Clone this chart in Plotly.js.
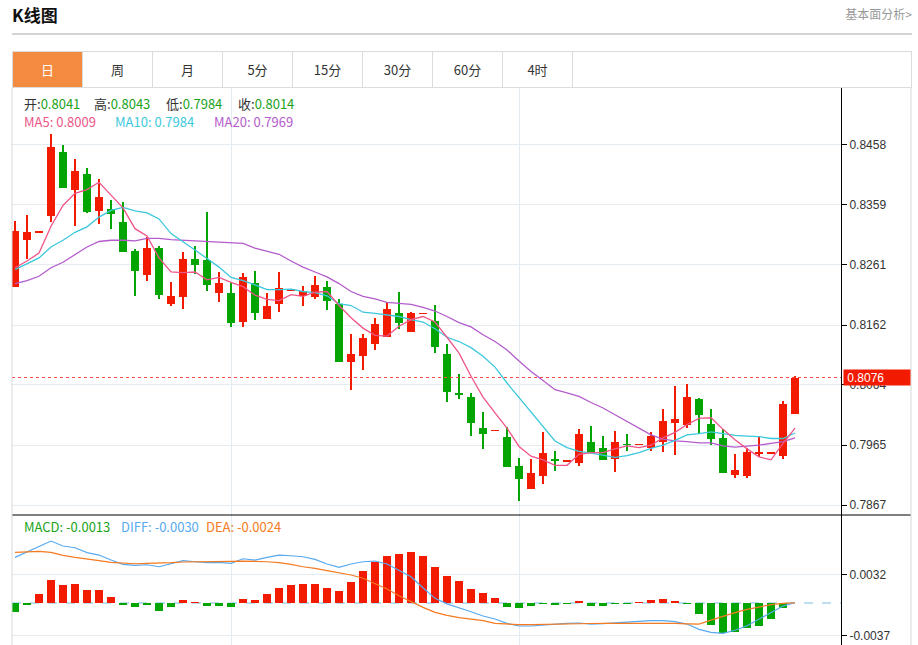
<!DOCTYPE html>
<html>
<head>
<meta charset="utf-8">
<script src="https://cdn.plot.ly/plotly-3.0.1.min.js"></script>
<style>
  html, body { margin:0; padding:0; background:#fff; }
  #wrap { position:relative; width:918px; height:645px; overflow:hidden; font-family:'Noto Sans CJK SC','Noto Sans',sans-serif; }
  #title { position:absolute; left:12px; top:2px; font-size:17px; font-weight:bold; color:#111; line-height:26px; }
  #more { position:absolute; right:6px; top:4px; font-size:12px; color:#999; line-height:20px; }
  #hline { position:absolute; left:12px; top:33px; width:900px; height:2px; background:#d4d4d4; }
  #tabs { position:absolute; left:12px; top:51px; width:898px; height:35px; border:1px solid #dcdcdc; }
  .tab { position:absolute; top:0; width:69px; height:35px; border-right:1px solid #dcdcdc; text-align:center; line-height:35px; font-size:13px; color:#333; }
  .tab.on { background:#f38c40; color:#fff; }
  #plot { position:absolute; left:0; top:0; width:918px; height:645px; }
</style>
</head>
<body>
<div id="wrap">
  <div id="title">K线图</div>
  <div id="more">基本面分析&gt;</div>
  <div id="hline"></div>
  <div id="tabs"></div>
  <div id="plot"></div>
</div>
<script>
// ---------------- data ----------------
const tabLabels = ['日','周','月','5分','15分','30分','60分','4时'];

const opens  = [0.8224,0.8302,0.8315,0.8340,0.8446,0.8383,0.8409,0.8349,0.8353,0.8331,
                0.8283,0.8244,0.8288,0.8197,0.8208,0.8270,0.8268,0.8215,0.8215,0.8167,
                0.8231,0.8172,0.8197,0.8220,0.8209,0.8208,0.8224,0.8197,0.8101,0.8111,
                0.8131,0.8142,0.8182,0.8151,0.8181,0.8169,0.8115,0.8050,0.8044,0.7993,
                0.7989,0.7979,0.7931,0.7894,0.7915,0.7941,0.7939,0.7936,0.7971,0.7961,
                0.7942,0.7967,0.7966,0.7960,0.7971,0.8002,0.7998,0.8041,0.7999,0.7977,
                0.7917,0.7914,0.7950,0.7952,0.7947,0.8016];
const highs  = [0.8332,0.8342,0.8315,0.8476,0.8457,0.8435,0.8419,0.8401,0.8367,0.8363,
                0.8286,0.8307,0.8292,0.8233,0.8281,0.8291,0.8348,0.8249,0.8231,0.8248,
                0.8250,0.8215,0.8249,0.8220,0.8226,0.8242,0.8235,0.8204,0.8148,0.8147,
                0.8173,0.8200,0.8216,0.8184,0.8181,0.8195,0.8131,0.8081,0.8050,0.8019,
                0.7989,0.7995,0.7944,0.7943,0.7987,0.7956,0.7939,0.7992,0.7996,0.7980,
                0.7989,0.7983,0.7966,0.7986,0.8025,0.8062,0.8065,0.8043,0.8024,0.7992,
                0.7950,0.7961,0.7980,0.7952,0.8038,0.8078];
const lows   = [0.8224,0.8270,0.8315,0.8331,0.8386,0.8324,0.8346,0.8327,0.8320,0.8282,
                0.8209,0.8234,0.8205,0.8193,0.8188,0.8245,0.8218,0.8200,0.8158,0.8159,
                0.8171,0.8172,0.8183,0.8220,0.8193,0.8204,0.8186,0.8101,0.8055,0.8089,
                0.8121,0.8142,0.8155,0.8151,0.8181,0.8117,0.8036,0.8040,0.7980,0.7958,
                0.7989,0.7930,0.7873,0.7894,0.7902,0.7922,0.7939,0.7931,0.7954,0.7941,
                0.7921,0.7955,0.7966,0.7955,0.7954,0.7949,0.7994,0.7984,0.7966,0.7919,
                0.7912,0.7912,0.7946,0.7952,0.7943,0.8016];
const closes = [0.8317,0.8314,0.8315,0.8454,0.8386,0.8415,0.8348,0.8372,0.8344,0.8282,
                0.8250,0.8289,0.8211,0.8210,0.8271,0.8260,0.8227,0.8231,0.8166,0.8240,
                0.8182,0.8194,0.8222,0.8220,0.8218,0.8227,0.8201,0.8101,0.8115,0.8140,
                0.8164,0.8188,0.8165,0.8181,0.8181,0.8126,0.8052,0.8047,0.8001,0.7984,
                0.7989,0.7930,0.7909,0.7920,0.7952,0.7940,0.7939,0.7984,0.7954,0.7941,
                0.7971,0.7965,0.7966,0.7980,0.8004,0.8008,0.8044,0.8014,0.7976,0.7919,
                0.7924,0.7954,0.7954,0.7952,0.8033,0.8076];

const ma5  = [0.8256,0.8267,0.8280,0.8324,0.8358,0.8378,0.8384,0.8396,0.8375,0.8354,
              0.8320,0.8308,0.8272,0.8249,0.8248,0.8249,0.8236,0.8240,0.8232,0.8225,
              0.8211,0.8204,0.8202,0.8212,0.8209,0.8216,0.8217,0.8194,0.8174,0.8157,
              0.8145,0.8144,0.8160,0.8171,0.8176,0.8167,0.8142,0.8116,0.8078,0.8044,
              0.8018,0.7993,0.7963,0.7947,0.7941,0.7932,0.7932,0.7950,0.7953,0.7953,
              0.7959,0.7964,0.7961,0.7965,0.7977,0.7986,0.7999,0.8009,0.8010,0.7991,
              0.7974,0.7959,0.7946,0.7941,0.7968,0.7993];
const ma10 = [0.8253,0.8263,0.8272,0.8290,0.8301,0.8314,0.8323,0.8339,0.8350,0.8355,
              0.8349,0.8346,0.8336,0.8312,0.8299,0.8285,0.8271,0.8257,0.8240,0.8235,
              0.8228,0.8220,0.8220,0.8221,0.8217,0.8215,0.8210,0.8197,0.8194,0.8183,
              0.8181,0.8179,0.8176,0.8171,0.8167,0.8156,0.8142,0.8135,0.8125,0.8111,
              0.8093,0.8067,0.8043,0.8019,0.7996,0.7972,0.7961,0.7955,0.7952,0.7948,
              0.7945,0.7948,0.7953,0.7960,0.7965,0.7973,0.7982,0.7984,0.7987,0.7984,
              0.7981,0.7980,0.7979,0.7976,0.7976,0.7985];
const ma20 = [0.8230,0.8235,0.8242,0.8256,0.8265,0.8278,0.8290,0.8299,0.8301,0.8301,
              0.8300,0.8304,0.8304,0.8302,0.8301,0.8299,0.8298,0.8298,0.8296,0.8296,
              0.8288,0.8283,0.8278,0.8267,0.8257,0.8249,0.8241,0.8230,0.8217,0.8209,
              0.8205,0.8199,0.8197,0.8196,0.8191,0.8185,0.8176,0.8166,0.8159,0.8146,
              0.8135,0.8121,0.8103,0.8086,0.8071,0.8056,0.8051,0.8045,0.8035,0.8026,
              0.8015,0.8004,0.7993,0.7982,0.7975,0.7972,0.7971,0.7969,0.7969,0.7964,
              0.7962,0.7963,0.7965,0.7968,0.7971,0.7977];

const macd = [-0.00106,-0.00026,0.00099,0.00261,0.00204,0.00219,0.00148,0.00148,0.00072,-0.00019,
              -0.00042,-0.00027,-0.00087,-0.00042,0.00034,0.00010,-0.00030,-0.00030,-0.00045,0.00045,
              0.00034,0.00102,0.00174,0.00201,0.00216,0.00219,0.00174,0.00136,0.00242,0.00364,
              0.00469,0.00537,0.00560,0.00576,0.00530,0.00409,0.00303,0.00250,0.00163,0.00114,
              0.00057,-0.00042,-0.00053,-0.00034,-0.00011,-0.00023,-0.00011,0.00019,-0.00030,-0.00030,
              -0.00008,-0.00008,0.00011,0.00034,0.00045,0.00027,-0.00008,-0.00130,-0.00250,-0.00345,
              -0.00330,-0.00288,-0.00262,-0.00186,-0.00053,0.00000];
const diff = [0.00519,0.00583,0.00648,0.00704,0.00648,0.00628,0.00572,0.00545,0.00488,0.00440,
              0.00428,0.00435,0.00412,0.00443,0.00481,0.00469,0.00458,0.00462,0.00451,0.00503,
              0.00488,0.00519,0.00545,0.00537,0.00526,0.00496,0.00443,0.00405,0.00443,0.00469,
              0.00477,0.00443,0.00375,0.00299,0.00174,0.00053,-0.00010,-0.00053,-0.00099,-0.00148,
              -0.00182,-0.00231,-0.00261,-0.00261,-0.00250,-0.00239,-0.00231,-0.00227,-0.00239,-0.00235,
              -0.00224,-0.00216,-0.00208,-0.00201,-0.00201,-0.00212,-0.00239,-0.00300,-0.00333,-0.00345,
              -0.00310,-0.00258,-0.00186,-0.00110,-0.00034,0.00003];
const dea  = [0.00576,0.00583,0.00587,0.00576,0.00542,0.00519,0.00496,0.00481,0.00462,0.00451,
              0.00446,0.00451,0.00451,0.00458,0.00466,0.00466,0.00469,0.00469,0.00474,0.00477,
              0.00474,0.00469,0.00458,0.00440,0.00412,0.00394,0.00367,0.00344,0.00318,0.00281,
              0.00224,0.00159,0.00083,0.00015,-0.00049,-0.00106,-0.00140,-0.00165,-0.00180,-0.00201,
              -0.00231,-0.00242,-0.00246,-0.00246,-0.00242,-0.00240,-0.00238,-0.00235,-0.00233,-0.00231,
              -0.00231,-0.00230,-0.00227,-0.00227,-0.00228,-0.00232,-0.00236,-0.00240,-0.00195,-0.00150,
              -0.00110,-0.00072,-0.00042,-0.00019,-0.00004,0.00003];

const priceTicks = [0.8458,0.8359,0.8261,0.8162,0.8064,0.7965,0.7867];
const macdTicks  = [0.0032,-0.0037];
const periodBreaks = [18,42];   // vertical grid (period boundaries)
const legendIdx = 57;           // bar shown in the info rows

// ---------------- tabs ----------------
const tabsEl = document.getElementById('tabs');
tabLabels.forEach((t,i)=>{
  const d = document.createElement('div');
  d.className = 'tab' + (i===0?' on':'');
  d.style.left = (i*70) + 'px';
  d.textContent = t;
  tabsEl.appendChild(d);
});

// ---------------- chart ----------------
const n = closes.length;
const idx = closes.map((_,i)=>i);
const RED = '#f21b00', GREEN = '#03a503';
const isUp = closes.map((c,i)=> c >= opens[i]);
const cCol = isUp.map(u=> u?RED:GREEN);
const minBody = 0.00028;
const bodyH = closes.map((c,i)=> Math.max(Math.abs(c-opens[i]), minBody));
const bodyBase = closes.map((c,i)=> (c+opens[i])/2 - bodyH[i]/2);
const wickH = highs.map((h,i)=> h - lows[i]);

const FONT = "'Noto Sans CJK SC','Noto Sans',sans-serif";
const traces = [
  {type:'bar', x:idx, y:wickH, base:lows, width:0.13, marker:{color:cCol, line:{width:0}}, xaxis:'x', yaxis:'y', hoverinfo:'skip'},
  {type:'bar', x:idx, y:bodyH, base:bodyBase, width:0.74, marker:{color:cCol, line:{width:0}}, xaxis:'x', yaxis:'y', hoverinfo:'skip'},
  {type:'scatter', mode:'lines', x:idx, y:ma20, line:{color:'#b45ccc', width:1.3}, xaxis:'x', yaxis:'y', hoverinfo:'skip'},
  {type:'scatter', mode:'lines', x:idx, y:ma10, line:{color:'#3cc8dc', width:1.3}, xaxis:'x', yaxis:'y', hoverinfo:'skip'},
  {type:'scatter', mode:'lines', x:idx, y:ma5,  line:{color:'#ee5588', width:1.3}, xaxis:'x', yaxis:'y', hoverinfo:'skip'},
  {type:'bar', x:idx, y:macd, width:0.74, marker:{color:macd.map(v=> v>=0?RED:GREEN), line:{width:0}}, xaxis:'x2', yaxis:'y2', hoverinfo:'skip'},
  {type:'scatter', mode:'lines', x:idx, y:diff, line:{color:'#58aaf0', width:1.2}, xaxis:'x2', yaxis:'y2', hoverinfo:'skip'},
  {type:'scatter', mode:'lines', x:idx, y:dea,  line:{color:'#f57a22', width:1.2}, xaxis:'x2', yaxis:'y2', hoverinfo:'skip'}
];

const GRID = '#e4ebf1';
const W = 918, H = 645, ML = 12, MR = 77, MT = 88, MB = 0;
const PW = W-ML-MR, PH = H-MT-MB;
const px = v => (v-ML)/PW;          // page x -> paper
const py = v => (H-MB-v)/PH;        // page y -> paper
const split = py(515);

const xBase = {range:[-0.25, 68.83], tickvals:periodBreaks, showticklabels:false, ticks:'',
               showgrid:true, gridcolor:GRID, gridwidth:1, zeroline:false, showline:false, fixedrange:true};
const tickFont = {family:"'Liberation Sans',Arial,sans-serif", size:12, color:'#333'};

const f4 = v => v.toFixed(4);
const ann = (x,y,txt,color) => ({xref:'paper', yref:'paper', x:px(x), y:py(y), xanchor:'left', yanchor:'middle',
  text:txt, showarrow:false, font:{family:FONT, size:13, color:color||'#333'}});
const g = s => '<span style="color:#1aa31a">'+s+'</span>';
const L = legendIdx;

const annotations = [
  ann(22,103,'开:'+g(f4(opens[L]))),
  ann(92,103,'高:'+g(f4(highs[L]))),
  ann(164,103,'低:'+g(f4(lows[L]))),
  ann(236,103,'收:'+g(f4(closes[L]))),
  ann(22,121,'MA5: '+f4(ma5[L]),'#ee5588'),
  ann(113,121,'MA10: '+f4(ma10[L]),'#3cc8dc'),
  ann(212,121,'MA20: '+f4(ma20[L]),'#b45ccc'),
  ann(22,526,'MACD: '+f4(macd[L]),'#1aa31a'),
  ann(119,526,'DIFF: '+f4(diff[L]),'#58aaf0'),
  ann(204,526,'DEA: '+f4(dea[L]),'#f57a22'),
  {xref:'paper', yref:'y', x:px(843), y:closes[n-1], xanchor:'left', yanchor:'middle',
   text:'&nbsp;'+f4(closes[n-1]), showarrow:false, bgcolor:RED, width:66, height:15, align:'left', borderpad:0,
   font:{family:"'Liberation Sans',Arial,sans-serif", size:12, color:'#fff'}}
];

const shapes = [
  // current price dotted line
  {type:'line', xref:'paper', yref:'y', x0:0, x1:1, y0:closes[n-1], y1:closes[n-1], line:{color:'#ff4a4a', width:1.2, dash:'dot'}},
  // macd zero line
  {type:'line', xref:'paper', yref:'y2', x0:0, x1:1, y0:0, y1:0, line:{color:'#a8d4ec', width:1.5, dash:'dash'}, layer:'below'},
  // panel separator
  {type:'line', xref:'paper', yref:'paper', x0:0, x1:px(911), y0:split, y1:split, line:{color:'#000', width:1.2}},
  // frame borders
  {type:'line', xref:'paper', yref:'paper', x0:0, x1:0, y0:0, y1:1, line:{color:'#d8d8d8', width:1}},
  {type:'line', xref:'paper', yref:'paper', x0:px(911), x1:px(911), y0:0, y1:1, line:{color:'#d8d8d8', width:1}}
];

const layout = {
  width:W, height:H, margin:{l:ML, r:MR, t:MT, b:MB, pad:0},
  paper_bgcolor:'rgba(0,0,0,0)', plot_bgcolor:'#fff',
  showlegend:false, barmode:'overlay', bargap:0,
  xaxis:Object.assign({domain:[0,1], anchor:'y'}, xBase),
  xaxis2:Object.assign({domain:[0,1], anchor:'y2', matches:'x'}, xBase),
  yaxis:{domain:[split,1], side:'right', range:[0.78506,0.85506], tickvals:priceTicks, ticktext:priceTicks.map(f4),
         ticks:'outside', ticklen:5, tickcolor:'#000', showline:true, linecolor:'#000', linewidth:1,
         showgrid:true, gridcolor:GRID, zeroline:false, tickfont:tickFont, fixedrange:true, anchor:'x'},
  yaxis2:{domain:[0,split], side:'right', range:[-0.00477,0.0100], tickvals:macdTicks, ticktext:macdTicks.map(f4),
         ticks:'outside', ticklen:5, tickcolor:'#000', showline:true, linecolor:'#000', linewidth:1,
         showgrid:true, gridcolor:GRID, zeroline:false, tickfont:tickFont, fixedrange:true, anchor:'x2'},
  annotations:annotations, shapes:shapes
};

Plotly.newPlot('plot', traces, layout, {displayModeBar:false, staticPlot:true});
</script>
</body>
</html>
